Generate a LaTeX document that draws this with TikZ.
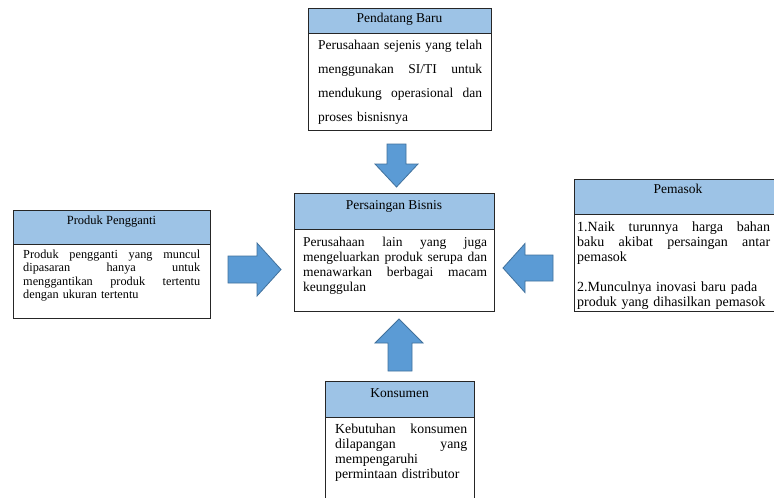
\documentclass[tikz,border=0pt]{standalone}
\usepackage{fontspec}
\setmainfont{Liberation Serif}
\newcommand\jline[1]{\noindent\hbox to \hsize{\spaceskip=0.25em plus 3em minus 0.05em\relax #1}\\}
\definecolor{hdrblue}{HTML}{9DC3E6}
\definecolor{arrfill}{HTML}{5B9BD5}
\definecolor{arrline}{HTML}{41719C}
\tikzset{
  boxbody/.style={draw=black!85, line width=0.9pt, fill=white, rectangle, inner sep=0pt, anchor=north west},
  boxhead/.style={boxbody, fill=hdrblue},
  headtext/.style={anchor=base, inner sep=0pt, font=\fontsize{13.5}{15}\selectfont},
  bodytext/.style={anchor=north west, inner sep=0pt, align=left, font=\fontsize{13.5}{15}\selectfont},
  blockarrow/.style={fill=arrfill, draw=arrline, line width=0.8pt, line join=miter}
}
\begin{document}
\begin{tikzpicture}[x=1pt, y=-1pt]
\useasboundingbox (0,0) rectangle (774,498);
\clip (0,0) rectangle (774,498);
\fill[white] (0,0) rectangle (774,498);

% Pendatang Baru
\node[boxbody, minimum width=183pt, minimum height=122pt] (pb) at (308,8) {};
\node[boxhead, minimum width=183pt, minimum height=25pt] (pbh) at (308,8) {};
\node[headtext] (pbht) at (399.5,22) {Pendatang Baru};
\node[bodytext, text width=164pt, font=\fontsize{13.5}{24}\selectfont] (pbt) at (318,39.5)
  {\jline{Perusahaan sejenis yang telah}\jline{menggunakan SI/TI untuk}\jline{mendukung operasional dan}proses bisnisnya};

% Persaingan Bisnis
\node[boxbody, minimum width=200pt, minimum height=118pt] (ps) at (294,193) {};
\node[boxhead, minimum width=200pt, minimum height=36pt] (psh) at (294,193) {};
\node[headtext] (psht) at (394,209) {Persaingan Bisnis};
\node[bodytext, text width=184pt] (pst) at (303,236.5)
  {\jline{Perusahaan lain yang juga}\jline{mengeluarkan produk serupa dan}\jline{menawarkan berbagai macam}keunggulan};

% Produk Pengganti
\node[boxbody, minimum width=197pt, minimum height=108pt] (pp) at (13,210) {};
\node[boxhead, minimum width=197pt, minimum height=34pt] (pph) at (13,210) {};
\node[headtext, font=\fontsize{12.5}{14}\selectfont] (ppht) at (111.5,224) {Produk Pengganti};
\node[bodytext, text width=177pt, font=\fontsize{12.3}{13.4}\selectfont] (ppt) at (23,249.5)
  {\jline{Produk pengganti yang muncul}\jline{dipasaran hanya untuk}\jline{menggantikan produk tertentu}dengan ukuran tertentu};

% Pemasok
\node[boxbody, minimum width=208pt, minimum height=132pt] (pm) at (574,179) {};
\node[boxhead, minimum width=208pt, minimum height=35pt] (pmh) at (574,179) {};
\node[headtext] (pmht) at (678,193) {Pemasok};
\node[bodytext, text width=193pt, font=\fontsize{14}{15}\selectfont] (pmt) at (577,221.5)
  {\jline{1.Naik turunnya harga bahan}\jline{baku akibat persaingan antar}pemasok\\[15pt]2.Munculnya inovasi baru pada\\produk yang dihasilkan pemasok};

% Konsumen
\node[boxbody, minimum width=149pt, minimum height=130pt] (ks) at (325,381) {};
\node[boxhead, minimum width=149pt, minimum height=36pt] (ksh) at (325,381) {};
\node[headtext] (ksht) at (399.5,397) {Konsumen};
\node[bodytext, text width=132pt, font=\fontsize{13.8}{15}\selectfont] (kst) at (335,423.5)
  {\jline{Kebutuhan konsumen}\jline{dilapangan yang}mempengaruhi\\permintaan distributor};

% Block arrows
\draw[blockarrow] (387,144) -- (406,144) -- (406,164) -- (418,164) -- (396.5,187) -- (375,164) -- (387,164) -- cycle;
\draw[blockarrow] (228,256) -- (257,256) -- (257,243) -- (281,269.5) -- (257,296) -- (257,283) -- (228,283) -- cycle;
\draw[blockarrow] (553,255) -- (525,255) -- (525,243.5) -- (503,268) -- (525,292.5) -- (525,281) -- (553,281) -- cycle;
\draw[blockarrow] (388,371) -- (388,343) -- (375,343) -- (399,319) -- (423,343) -- (412,343) -- (412,371) -- cycle;
\end{tikzpicture}
\end{document}
